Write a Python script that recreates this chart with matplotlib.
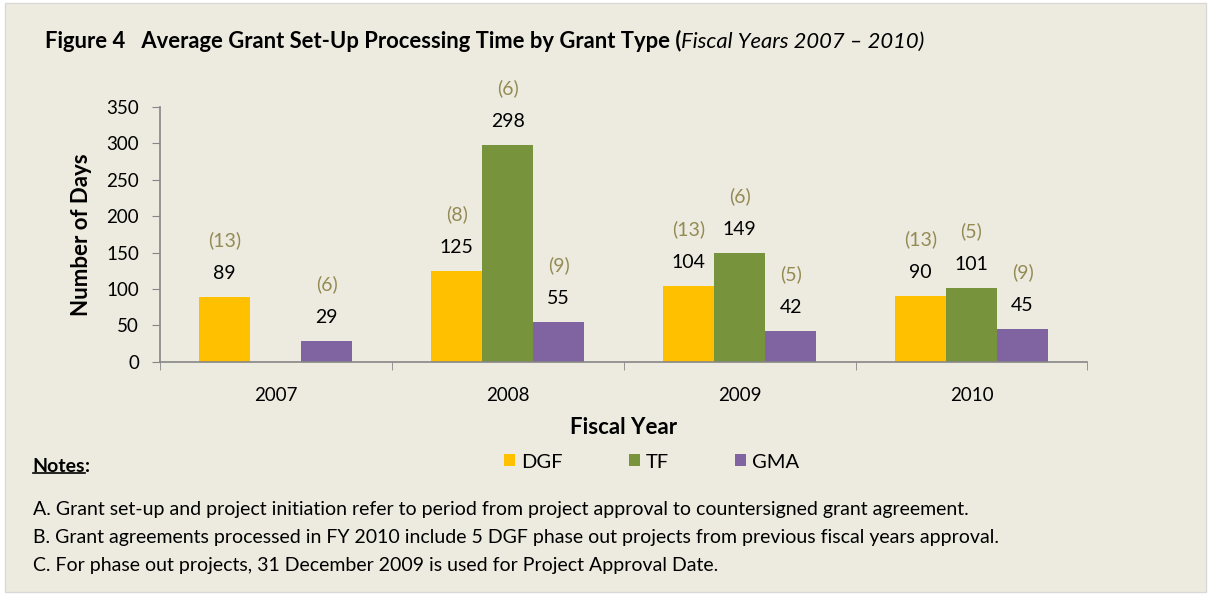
import numpy as np
import matplotlib.pyplot as plt
from matplotlib.patches import Rectangle
from matplotlib.lines import Line2D

plt.rcParams['font.family'] = ['Lato', 'DejaVu Sans']

years = ["2007", "2008", "2009", "2010"]
series = ["DGF", "TF", "GMA"]
dgf = [89, 125, 104, 90]
tf = [np.nan, 298, 149, 101]
gma = [29, 55, 42, 45]
dgf_n = ["(13)", "(8)", "(13)", "(13)"]
tf_n = [None, "(6)", "(6)", "(5)"]
gma_n = ["(6)", "(9)", "(5)", "(9)"]
colors = ["#FFC000", "#77933C", "#8064A2"]
notes = [
    "A. Grant set-up and project initiation refer to period from project approval to countersigned grant agreement.",
    "B. Grant agreements processed in FY 2010 include 5 DGF phase out projects from previous fiscal years approval.",
    "C. For phase out projects, 31 December 2009 is used for Project Approval Date.",
]

bg = "#EDEBE0"
fig = plt.figure(figsize=(12.11, 5.95), dpi=100, facecolor="white")
fig.patches.append(Rectangle((0.004, 0.005), 0.992, 0.99, transform=fig.transFigure,
                             facecolor=bg, edgecolor="#D9D9D9", lw=1, zorder=-10))
ax = fig.add_axes([0.132, 0.392, 0.766, 0.428])
ax.set_facecolor(bg)

x = np.arange(len(years))
w = 0.22
vals = [dgf, tf, gma]
counts = [dgf_n, tf_n, gma_n]
for i, (v, n, c, name) in enumerate(zip(vals, counts, colors, series)):
    pos = x + (i - 1) * w
    ax.bar(pos, v, width=w, color=c, label=name, zorder=2)
    for xp, val, cnt in zip(pos, v, n):
        if np.isnan(val):
            continue
        ax.annotate(str(int(val)), (xp, val), xytext=(0, 17), textcoords="offset points",
                    ha="center", va="center", fontsize=14, color="black")
        ax.annotate(cnt, (xp, val), xytext=(0, 41), textcoords="offset points",
                    ha="center", va="center", fontsize=14, color="#948A54")

ax.set_xlim(-0.5, len(years) - 0.5)
ax.set_ylim(0, 350)
ax.set_yticks(range(0, 351, 50))
ax.set_xticks(x)
ax.set_xticklabels(years)
ax.set_xticks(np.arange(-0.5, len(years), 1), minor=True)
ax.tick_params(axis="x", which="major", length=0, pad=18, labelsize=13.5)
ax.tick_params(axis="x", which="minor", length=6, color="#868686", direction="out")
ax.tick_params(axis="y", length=6, color="#868686", labelsize=13.5, pad=9)
for s in ["top", "right"]:
    ax.spines[s].set_visible(False)
for s in ["left", "bottom"]:
    ax.spines[s].set_color("#868686")
    ax.spines[s].set_linewidth(1.2)

ax.set_ylabel("Number of Days", fontsize=16, fontweight="bold", labelpad=10)
fig.text(0.515, 1 - 427 / 595, "Fiscal Year", ha="center", va="center",
         fontsize=16, fontweight="bold")

fig.legend(loc="center", bbox_to_anchor=(0.538, 1 - 462 / 595), ncol=3, frameon=False,
           fontsize=14.5, handlelength=0.55, handleheight=0.55, columnspacing=3.3,
           handletextpad=0.3)

# title: bold part followed by italic part
t1 = fig.text(0.037, 1 - 41 / 595, "Figure 4   Average Grant Set-Up Processing Time by Grant Type (",
              ha="left", va="center", fontsize=15.8, fontweight="bold")
ax.annotate("Fiscal Years 2007 \u2013 2010)", xy=(1, 0), xycoords=t1, ha="left", va="bottom",
            fontsize=15.8, style="italic", annotation_clip=False)

# notes
tn = fig.text(0.027, 1 - 467 / 595, "Notes", ha="left", va="center", fontsize=14,
              fontweight="bold")
ax.annotate(":", xy=(1, 0), xycoords=tn, ha="left", va="bottom",
            fontsize=14, fontweight="bold", annotation_clip=False)
for k, line in enumerate(notes):
    fig.text(0.027, 1 - (509 + 28 * k) / 595, line, ha="left", va="center", fontsize=14)

# underline "Notes"
fig.canvas.draw()
bb = tn.get_window_extent().transformed(fig.transFigure.inverted())
fig.add_artist(Line2D([bb.x0, bb.x1], [bb.y0 + 0.004, bb.y0 + 0.004],
                      transform=fig.transFigure, color="black", lw=1.2))

fig.savefig("out.png", dpi=100, facecolor=fig.get_facecolor())
